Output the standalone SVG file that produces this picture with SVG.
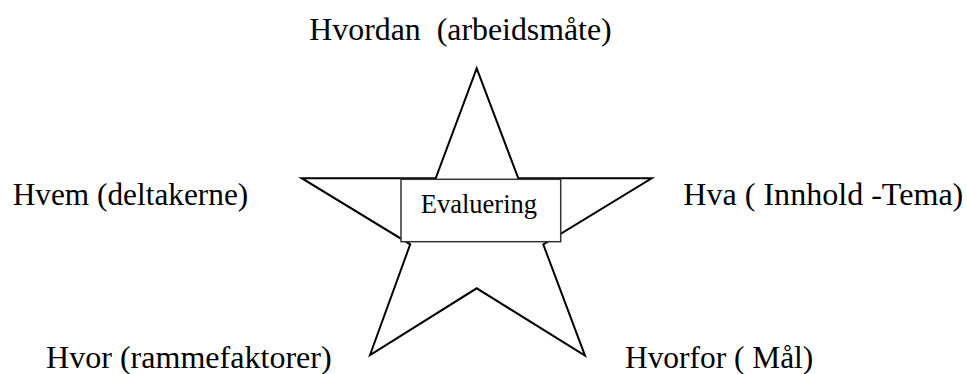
<svg xmlns="http://www.w3.org/2000/svg" width="967" height="374" viewBox="0 0 967 374">
<style>
text{font-family:"Liberation Serif","Times New Roman",serif;fill:#000;white-space:pre}
.lbl{font-size:30.5px}
.star{fill:#fff;stroke:#000;stroke-width:2;stroke-linejoin:miter}
.box{fill:#fff;stroke:#333;stroke-width:1.5}
</style>
<rect width="967" height="374" fill="#fff"/>
<g id="star">
<polygon class="star" points="476.7,68.3 518.3,178.3 651.7,178.3 543.3,244.5 585,355.7 476.7,288.3 370,355 410.2,244.3 301.7,178.2 435.7,178.3"/>
</g>
<g id="center">
<rect class="box" x="401" y="179.3" width="159.7" height="62.4"/>
<text x="478.9" y="213.3" font-size="26.5" text-anchor="middle">Evaluering</text>
</g>
<g id="connectors"></g>
<g id="n-hvordan"><text class="lbl" x="309.3" y="40" textLength="302.4" lengthAdjust="spacingAndGlyphs" xml:space="preserve">Hvordan  (arbeidsmåte)</text></g>
<g id="n-hvem"><text class="lbl" x="12.7" y="205" textLength="235.6" lengthAdjust="spacingAndGlyphs">Hvem (deltakerne)</text></g>
<g id="n-hva"><text class="lbl" x="683.3" y="205" textLength="280" lengthAdjust="spacingAndGlyphs">Hva ( Innhold -Tema)</text></g>
<g id="n-hvor"><text class="lbl" x="46" y="367.5" textLength="285.7" lengthAdjust="spacingAndGlyphs">Hvor (rammefaktorer)</text></g>
<g id="n-hvorfor"><text class="lbl" x="625" y="367.5" textLength="188.3" lengthAdjust="spacingAndGlyphs">Hvorfor ( Mål)</text></g>
</svg>
